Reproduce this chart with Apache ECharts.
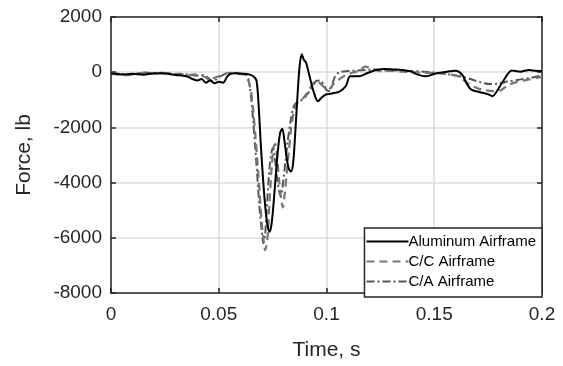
<!DOCTYPE html>
<html>
<head>
<meta charset="utf-8">
<script src="https://cdn.jsdelivr.net/npm/echarts@6/dist/echarts.min.js"></script>
<style>
html,body{margin:0;padding:0;background:#fff;}
#c{width:563px;height:366px;}
</style>
</head>
<body>
<div id="c"></div>
<script>
// Tick values
const xTicks = [0, 0.05, 0.1, 0.15, 0.2];
const yTicks = [-8000, -6000, -4000, -2000, 0, 2000];

// Aluminum Airframe
const tAl = [0,0.005,0.01,0.015,0.02,0.025,0.03,0.035,0.038,0.04,0.042,0.044,0.046,0.048,0.05,0.052,0.054,0.056,0.058,0.06,0.062,0.064,0.066,0.0675,0.0685,0.0695,0.0705,0.0715,0.0725,0.0736,0.0745,0.0755,0.0765,0.0775,0.0785,0.0795,0.0805,0.0815,0.0825,0.0835,0.0845,0.0855,0.0865,0.0875,0.0885,0.0895,0.0905,0.092,0.094,0.096,0.098,0.1,0.102,0.106,0.109,0.111,0.115,0.119,0.123,0.127,0.131,0.135,0.139,0.142,0.146,0.151,0.156,0.16,0.163,0.165,0.167,0.171,0.175,0.177,0.179,0.182,0.186,0.19,0.194,0.197,0.2];
const fAl = [-50,-80,-60,-90,-40,-50,-100,-150,-250,-300,-250,-380,-300,-400,-350,-380,-150,-50,-40,-60,-60,-80,-150,-300,-1200,-2600,-3800,-4800,-5500,-5780,-5500,-4700,-3700,-2800,-2200,-2050,-2500,-3100,-3500,-3600,-3300,-2200,-900,200,650,450,350,-100,-700,-1050,-900,-800,-780,-700,-500,-150,-150,-30,80,120,100,80,30,-80,-150,-40,20,50,-100,-400,-620,-720,-800,-870,-700,-320,60,20,80,50,40];

// C/C Airframe
const tCC = [0,0.004,0.008,0.012,0.016,0.02,0.024,0.028,0.032,0.036,0.04,0.043,0.046,0.048,0.05,0.053,0.056,0.059,0.062,0.0635,0.065,0.066,0.067,0.068,0.069,0.07,0.071,0.0715,0.0725,0.0735,0.0745,0.0755,0.0762,0.077,0.078,0.079,0.0797,0.0805,0.0815,0.0825,0.0835,0.085,0.087,0.089,0.091,0.093,0.095,0.097,0.099,0.101,0.103,0.106,0.109,0.112,0.115,0.118,0.121,0.125,0.13,0.135,0.14,0.145,0.15,0.155,0.16,0.163,0.166,0.17,0.174,0.178,0.181,0.184,0.188,0.193,0.2];
const fCC = [-60,-80,-110,-40,-20,-60,-30,-50,-80,-100,-80,-150,-280,-200,-150,-50,-20,-60,-90,-250,-700,-1400,-2300,-3300,-4400,-5500,-6200,-6450,-6100,-4800,-3500,-2700,-2600,-3000,-3900,-4600,-4900,-4500,-3700,-2900,-2100,-1400,-1050,-950,-750,-500,-320,-400,-550,-620,-450,-250,-100,-20,50,200,120,40,50,20,0,-20,-30,-60,-120,-250,-420,-580,-660,-690,-650,-480,-360,-280,-170];

// C/A Airframe
const tCA = [0,0.004,0.008,0.012,0.016,0.02,0.024,0.028,0.032,0.036,0.04,0.043,0.045,0.0473,0.049,0.052,0.055,0.058,0.061,0.063,0.064,0.065,0.066,0.067,0.068,0.069,0.07,0.0707,0.0715,0.0725,0.0735,0.0745,0.0752,0.076,0.077,0.078,0.0788,0.0797,0.081,0.082,0.0835,0.085,0.087,0.089,0.091,0.093,0.095,0.097,0.099,0.1,0.1015,0.1025,0.104,0.106,0.11,0.114,0.118,0.122,0.126,0.13,0.135,0.14,0.145,0.15,0.155,0.16,0.164,0.168,0.172,0.176,0.18,0.184,0.19,0.195,0.2];
const fCA = [-40,-60,-90,-60,-10,-40,-20,-70,-60,-90,-120,-100,-200,-330,-250,-100,-30,-30,-60,-120,-350,-900,-1800,-2800,-3900,-5000,-5800,-6200,-5900,-4700,-3500,-2900,-2750,-3100,-3800,-4300,-4500,-4100,-3200,-2500,-1700,-1200,-1050,-990,-800,-600,-330,-300,-500,-650,-690,-500,-150,0,40,60,80,100,70,80,50,40,20,-10,-60,-120,-180,-280,-380,-430,-410,-340,-260,-200,-120];

const zip = (t, f) => t.map((v, i) => [v, f[i]]);
const txt = '#262626';
const font = 'Arial, "Liberation Sans", sans-serif';

const chart = echarts.init(document.getElementById('c'), null, {renderer: 'canvas'});
chart.setOption({
  animation: false,
  backgroundColor: '#fff',
  grid: {left: 111, right: 21, top: 17, bottom: 69, containLabel: false},
  xAxis: [{
    type: 'value', min: xTicks[0], max: xTicks[xTicks.length-1], interval: 0.05,
    name: 'Time, s', nameLocation: 'middle', nameGap: 47,
    nameTextStyle: {color: txt, fontSize: 21, fontFamily: font},
    axisLine: {onZero: false, lineStyle: {color: txt, width: 1.5}},
    axisTick: {inside: true, length: 5, lineStyle: {color: txt, width: 1.5}},
    axisLabel: {color: txt, fontSize: 19, fontFamily: font, margin: 12, formatter: v => String(+v.toFixed(3))},
    splitLine: {show: true, lineStyle: {color: '#dedede', width: 1.5}}
  }, {
    type: 'value', position: 'top', min: xTicks[0], max: xTicks[xTicks.length-1], interval: 0.05,
    axisLine: {show: true, onZero: false, lineStyle: {color: txt, width: 1.5}},
    axisTick: {inside: true, length: 5, lineStyle: {color: txt, width: 1.5}},
    axisLabel: {show: false}, splitLine: {show: false}
  }],
  yAxis: [{
    type: 'value', min: yTicks[0], max: yTicks[yTicks.length-1], interval: 2000,
    name: 'Force, lb', nameLocation: 'middle', nameGap: 76,
    nameTextStyle: {color: txt, fontSize: 21, fontFamily: font},
    axisLine: {show: true, onZero: false, lineStyle: {color: txt, width: 1.5}},
    axisTick: {show: true, inside: true, length: 5, lineStyle: {color: txt, width: 1.5}},
    axisLabel: {color: txt, fontSize: 19, fontFamily: font, margin: 9, formatter: v => String(v)},
    splitLine: {show: true, lineStyle: {color: '#dedede', width: 1.5}}
  }, {
    type: 'value', position: 'right', min: yTicks[0], max: yTicks[yTicks.length-1], interval: 2000,
    axisLine: {show: true, onZero: false, lineStyle: {color: txt, width: 1.5}},
    axisTick: {show: true, inside: true, length: 5, lineStyle: {color: txt, width: 1.5}},
    axisLabel: {show: false}, splitLine: {show: false}
  }],
  legend: {
    orient: 'vertical', right: 21, bottom: 69,
    backgroundColor: '#fff', borderColor: txt, borderWidth: 1.5, borderRadius: 0,
    padding: [6, 6, 8, 1], itemGap: 5, itemWidth: 42, itemHeight: 14,
    itemStyle: {opacity: 0},
    textStyle: {color: '#000', fontSize: 15, fontFamily: font, padding: [0,0,0,-5]},
    data: ['Aluminum Airframe', 'C/C Airframe', 'C/A Airframe']
  },
  series: [{
    name: 'C/A Airframe', type: 'line', data: zip(tCA, fCA), showSymbol: false, symbol: 'none', smooth: 0.3,
    lineStyle: {color: '#555555', width: 2, type: [8, 3, 2, 3]}, itemStyle: {color: '#555555'}
  }, {
    name: 'C/C Airframe', type: 'line', data: zip(tCC, fCC), showSymbol: false, symbol: 'none', smooth: 0.3,
    lineStyle: {color: '#777777', width: 2.2, type: [8, 5]}, itemStyle: {color: '#777777'}
  }, {
    name: 'Aluminum Airframe', type: 'line', data: zip(tAl, fAl), showSymbol: false, symbol: 'none', smooth: 0.3,
    lineStyle: {color: '#000', width: 2}, itemStyle: {color: '#000'}
  }]
});
</script>
</body>
</html>
